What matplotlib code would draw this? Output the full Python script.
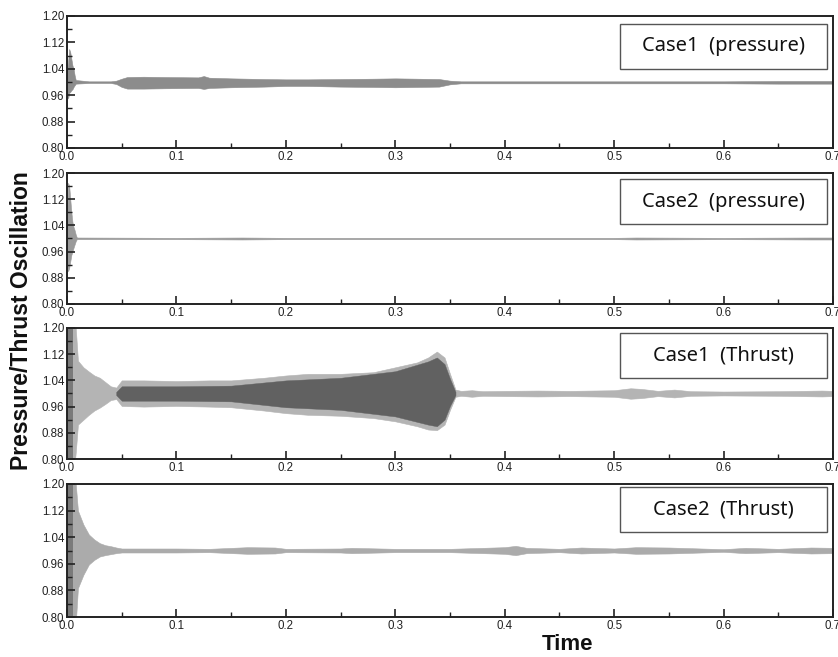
import matplotlib
matplotlib.use("Agg")
import matplotlib.pyplot as plt
from matplotlib.ticker import MultipleLocator, FormatStrFormatter
from matplotlib.patches import Rectangle

# ---------------- data (envelopes) ----------------
# Panel 1: Case1 (pressure)
t1 = [0.0, 0.001, 0.002, 0.003, 0.004, 0.005, 0.006, 0.007, 0.008, 0.02, 0.04,
      0.045, 0.05, 0.055, 0.07, 0.09, 0.12, 0.125, 0.13, 0.15, 0.18, 0.2, 0.22,
      0.25, 0.28, 0.3, 0.32, 0.34, 0.35, 0.36, 0.4, 0.45, 0.5, 0.55, 0.6, 0.65,
      0.68, 0.7]
up1 = [1.03, 1.06, 1.10, 1.09, 1.07, 1.05, 1.04, 1.02, 1.006, 1.002, 1.002,
       1.004, 1.010, 1.015, 1.016, 1.015, 1.014, 1.018, 1.013, 1.011, 1.009,
       1.008, 1.008, 1.009, 1.010, 1.011, 1.010, 1.009, 1.004, 1.002, 1.002,
       1.002, 1.002, 1.002, 1.002, 1.003, 1.003, 1.003]
lo1 = [0.97, 0.95, 0.967, 0.970, 0.975, 0.978, 0.985, 0.990, 0.995, 0.997,
       0.997, 0.994, 0.985, 0.980, 0.980, 0.981, 0.982, 0.979, 0.982, 0.984,
       0.986, 0.988, 0.988, 0.986, 0.985, 0.984, 0.985, 0.986, 0.993, 0.996,
       0.996, 0.996, 0.996, 0.996, 0.996, 0.995, 0.995, 0.995]

# Panel 2: Case2 (pressure)
t2 = [0.0, 0.001, 0.002, 0.003, 0.004, 0.005, 0.006, 0.007, 0.008, 0.009,
      0.1, 0.16, 0.2, 0.3, 0.4, 0.5, 0.52, 0.6, 0.68, 0.7]
up2 = [1.04, 1.17, 1.16, 1.12, 1.08, 1.05, 1.035, 1.025, 1.012, 1.003,
       1.002, 1.003, 1.002, 1.002, 1.002, 1.002, 1.003, 1.002, 1.003, 1.003]
lo2 = [0.93, 0.90, 0.91, 0.93, 0.95, 0.96, 0.972, 0.982, 0.992, 0.998,
       0.998, 0.997, 0.998, 0.998, 0.998, 0.998, 0.997, 0.998, 0.997, 0.997]

# Panel 3: Case1 (Thrust) - outer (light) envelope
t3 = [0.0, 0.002, 0.004, 0.006, 0.008, 0.01, 0.015, 0.02, 0.025, 0.03, 0.035,
      0.04, 0.045, 0.05, 0.07, 0.1, 0.13, 0.15, 0.18, 0.2, 0.22, 0.25, 0.28,
      0.3, 0.32, 0.33, 0.338, 0.345, 0.35, 0.355, 0.36, 0.37, 0.38, 0.4, 0.43,
      0.46, 0.5, 0.515, 0.525, 0.54, 0.555, 0.57, 0.6, 0.65, 0.69, 0.7]
up3 = [1.25, 1.25, 1.25, 1.25, 1.20, 1.10, 1.08, 1.067, 1.055, 1.048, 1.035,
       1.022, 1.018, 1.040, 1.040, 1.038, 1.040, 1.040, 1.048, 1.055, 1.060,
       1.060, 1.065, 1.080, 1.095, 1.110, 1.128, 1.110, 1.060, 1.012, 1.008,
       1.010, 1.007, 1.008, 1.009, 1.008, 1.010, 1.016, 1.014, 1.008, 1.012,
       1.007, 1.006, 1.007, 1.009, 1.008]
lo3 = [0.75, 0.75, 0.75, 0.75, 0.82, 0.905, 0.920, 0.935, 0.948, 0.957, 0.968,
       0.980, 0.983, 0.962, 0.960, 0.962, 0.960, 0.958, 0.948, 0.940, 0.935,
       0.932, 0.925, 0.915, 0.900, 0.890, 0.888, 0.905, 0.950, 0.990, 0.993,
       0.990, 0.993, 0.992, 0.991, 0.992, 0.990, 0.984, 0.986, 0.992, 0.988,
       0.993, 0.994, 0.993, 0.991, 0.992]
# Panel 3: dark core
t3d = [0.045, 0.05, 0.1, 0.15, 0.2, 0.25, 0.3, 0.33, 0.338, 0.345, 0.35, 0.355]
up3d = [1.005, 1.022, 1.022, 1.024, 1.040, 1.048, 1.068, 1.098, 1.110, 1.090,
        1.045, 1.005]
lo3d = [0.995, 0.978, 0.978, 0.976, 0.958, 0.950, 0.930, 0.905, 0.900, 0.920,
        0.962, 0.995]
# Panel 3: dark initial block
t3t = [0.0, 0.0055]
up3t = [1.25, 1.25]
lo3t = [0.75, 0.75]

# Panel 4: Case2 (Thrust)
t4 = [0.0, 0.007, 0.008, 0.01, 0.015, 0.02, 0.025, 0.03, 0.035, 0.04, 0.045,
      0.05, 0.07, 0.1, 0.13, 0.165, 0.19, 0.2, 0.25, 0.26, 0.3, 0.35, 0.4,
      0.41, 0.42, 0.45, 0.47, 0.5, 0.52, 0.55, 0.6, 0.62, 0.65, 0.68, 0.7]
up4 = [1.25, 1.25, 1.20, 1.12, 1.078, 1.048, 1.033, 1.022, 1.016, 1.013, 1.009,
       1.006, 1.006, 1.006, 1.005, 1.010, 1.009, 1.005, 1.006, 1.008, 1.005,
       1.005, 1.010, 1.014, 1.008, 1.005, 1.009, 1.006, 1.010, 1.009, 1.004,
       1.008, 1.005, 1.009, 1.008]
lo4 = [0.75, 0.75, 0.78, 0.887, 0.927, 0.958, 0.972, 0.982, 0.986, 0.989,
       0.992, 0.994, 0.994, 0.994, 0.995, 0.990, 0.991, 0.995, 0.994, 0.992,
       0.995, 0.995, 0.990, 0.986, 0.992, 0.995, 0.991, 0.994, 0.990, 0.991,
       0.996, 0.992, 0.995, 0.991, 0.992]
t4t = [0.0, 0.0055]
up4t = [1.25, 1.25]
lo4t = [0.75, 0.75]

labels = ["Case1  (pressure)", "Case2  (pressure)", "Case1  (Thrust)", "Case2  (Thrust)"]
yticks = [0.80, 0.88, 0.96, 1.04, 1.12, 1.20]
xticks = [0.0, 0.1, 0.2, 0.3, 0.4, 0.5, 0.6, 0.7]

# ---------------- layout ----------------
W, H = 838, 657
fig = plt.figure(figsize=(W / 100, H / 100), dpi=100)
plt.rcParams['font.family'] = ['Liberation Sans', 'DejaVu Sans']

left, right = 67 / W, 833 / W
panels = [(16, 148), (173, 304), (328, 459), (484, 617)]
boxes = [(24, 69), (179, 224), (333, 378), (487, 532)]
box_x = (620, 827)

axes = []
for (top, bot) in panels:
    ax = fig.add_axes([left, 1 - bot / H, right - left, (bot - top) / H])
    axes.append(ax)

def style(ax, i):
    ax.set_xlim(0, 0.7)
    ax.set_ylim(0.80, 1.20)
    ax.set_yticks(yticks)
    ax.set_xticks(xticks)
    ax.xaxis.set_minor_locator(MultipleLocator(0.05))
    ax.yaxis.set_minor_locator(MultipleLocator(0.04))
    ax.yaxis.set_major_formatter(FormatStrFormatter('%.2f'))
    ax.xaxis.set_major_formatter(FormatStrFormatter('%.1f'))
    ax.tick_params(which='both', direction='in', top=False, right=False,
                   labelsize=8.3, colors='#222222', pad=2)
    ax.tick_params(which='major', length=6, width=1.2)
    ax.tick_params(which='minor', length=3.5, width=1.0)
    for s in ax.spines.values():
        s.set_linewidth(1.4)
        s.set_color('#222222')
    top, bot = panels[i]
    btop, bbot = boxes[i]
    ph = bot - top
    x0 = (box_x[0] - 67) / (833 - 67)
    x1 = (box_x[1] - 67) / (833 - 67)
    y0 = (bot - bbot) / ph
    y1 = (bot - btop) / ph
    ax.add_patch(Rectangle((x0, y0), x1 - x0, y1 - y0, transform=ax.transAxes,
                           facecolor='white', edgecolor='#555555', lw=1.0, zorder=5))
    ax.text((x0 + x1) / 2, (y0 + y1) / 2, labels[i], transform=ax.transAxes,
            ha='center', va='center', fontsize=14.5, family=['Noto Sans', 'DejaVu Sans'],
            color='#111111', zorder=6)

ax = axes[0]
ax.fill_between(t1, lo1, up1, color='#8c8c8c', lw=0.4, edgecolor='#8c8c8c')
ax = axes[1]
ax.fill_between(t2, lo2, up2, color='#9a9a9a', lw=0.4, edgecolor='#9a9a9a')
ax = axes[2]
ax.fill_between(t3, lo3, up3, color='#b4b4b4', lw=0.4, edgecolor='#b4b4b4')
ax.fill_between(t3d, lo3d, up3d, color='#616161', lw=0.3, edgecolor='#616161')
ax.fill_between(t3t, lo3t, up3t, color='#7a7a7a', lw=0)
ax = axes[3]
ax.fill_between(t4, lo4, up4, color='#ababab', lw=0.4, edgecolor='#ababab')
ax.fill_between(t4t, lo4t, up4t, color='#7a7a7a', lw=0)

for i, ax in enumerate(axes):
    style(ax, i)

fig.text(22 / W, 1 - 321 / H, "Pressure/Thrust Oscillation", rotation=90,
         ha='center', va='center', fontsize=16.5, fontweight='bold', color='#111111')
fig.text(568 / W, 1 - 644 / H, "Time", ha='center', va='center',
         fontsize=16, fontweight='bold', color='#111111')

fig.savefig("out.png", dpi=100)
